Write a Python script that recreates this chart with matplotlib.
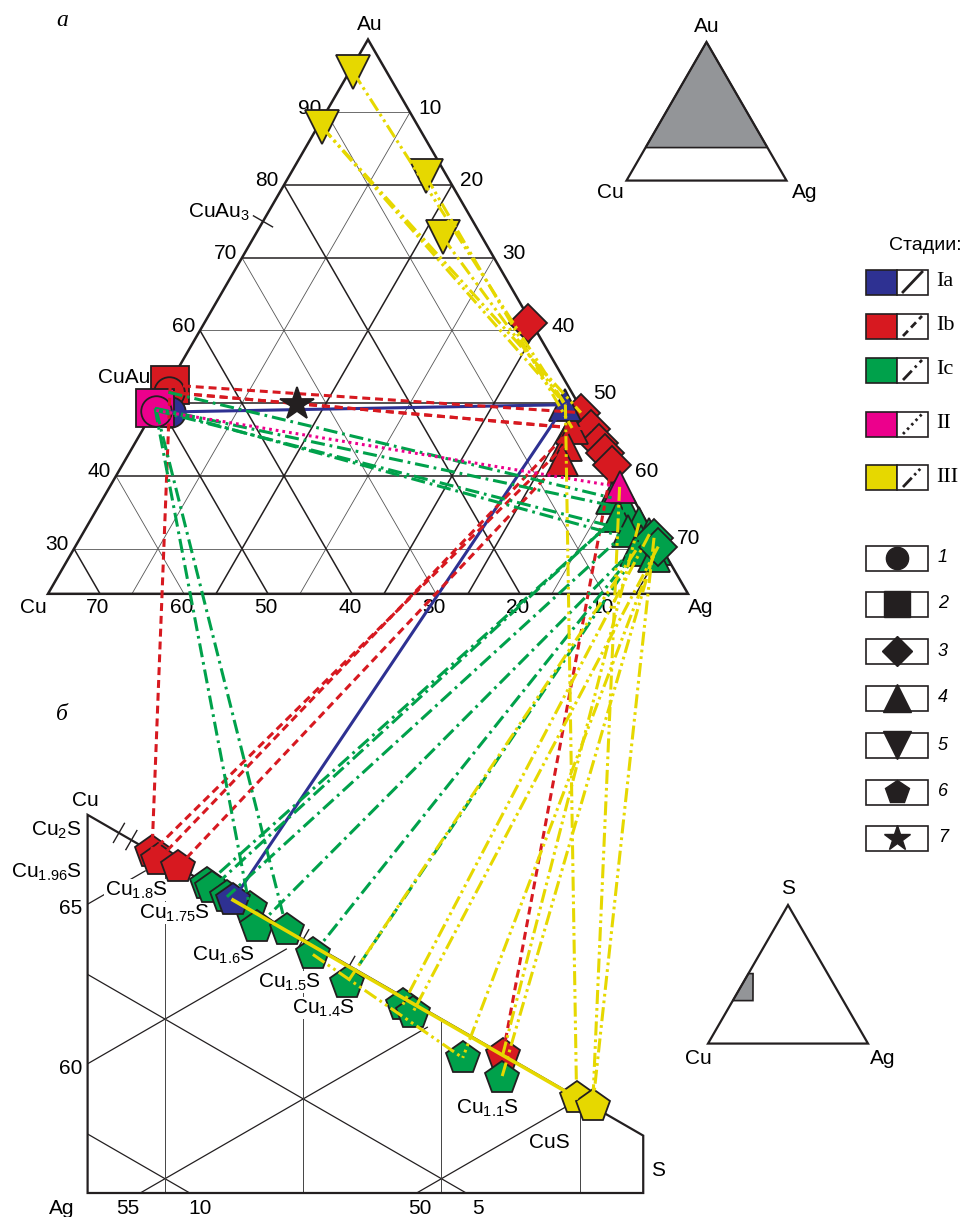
import numpy as np
import matplotlib
matplotlib.use("Agg")
import matplotlib.pyplot as plt
from matplotlib.patches import Polygon, Rectangle

plt.rcParams['font.family'] = ['Liberation Sans', 'DejaVu Sans']
plt.rcParams['mathtext.fontset'] = 'custom'
plt.rcParams['mathtext.rm'] = 'Liberation Sans'

# ======================= DATA =======================
STAGES = ['Ia', 'Ib', 'Ic', 'II', 'III']
STAGE_COLORS = {'Ia': '#2e3192', 'Ib': '#d71920', 'Ic': '#00a14b',
                'II': '#ec008c', 'III': '#e6d800', 'n': '#231f20'}
SHAPES = [1, 2, 3, 4, 5, 6, 7]          # legend numbers
SHAPE_MARKERS = {1: 'o', 2: 's', 3: 'D', 4: '^', 5: 'v', 6: 'p', 7: '*'}

# --- (a) Au-Ag-Cu alloys, at.% (Cu = 100 - Au - Ag)
top_au = [95.5, 88.0, 81.2, 72.8,
          61.0, 48.7, 46.4, 44.6, 43.2, 41.5,
          46.6, 44.3, 42.2,
          49.8,
          37.0, 35.5, 34.5, 33.5, 32.5, 32.0, 31.0, 30.0, 29.8, 29.0,
          31.5, 30.3,
          38.5,
          52.5, 51.5, 48.8, 49.3, 49.0,
          49.9]
top_ag = [0.5, 0.5, 16.3, 22.5,
          38.5, 51.0, 53.4, 55.2, 56.6, 58.3,
          51.0, 51.4, 52.0,
          48.6,
          60.5, 63.0, 62.5, 65.5, 64.7, 67.5, 67.0, 69.2, 67.0, 69.5,
          68.3, 69.4,
          60.7,
          0.2, 0.5, 2.0, 0.0, 0.3,
          16.6]
top_stage = ['III'] * 4 + ['Ib'] * 6 + ['Ib'] * 3 + ['Ia'] + ['Ic'] * 10 + ['Ic'] * 2 + \
            ['II'] + ['Ib', 'Ib', 'Ia', 'II', 'II'] + ['n']
top_shape = [5] * 4 + [3] * 6 + [4] * 3 + [4] + [4] * 10 + [3] * 2 + [4] + [2, 1, 1, 2, 1] + [7]

# --- (б) Cu-Ag-S sulfides: S and Ag fractions
bot_s = [0.3453, 0.3475, 0.3547, 0.4722,
         0.3652, 0.3670, 0.3724, 0.3807, 0.3746,
         0.3833, 0.3941, 0.4035, 0.4158, 0.4360, 0.4396, 0.4577, 0.4718,
         0.4989, 0.5047]
bot_ag = [0.0, 0.0014, 0.0, 0.0,
          0.0, 0.0005, 0.0005, 0.0, 0.0004,
          0.0045, 0.0, 0.0030, 0.0058, 0.0025, 0.0032, 0.0083, 0.0075,
          0.0002, 0.0]
bot_stage = ['Ib'] * 4 + ['Ic'] * 4 + ['Ia'] + ['Ic'] * 8 + ['III'] * 2

# --- tie lines: stage, end A, end B (T = alloy index, B = sulfide index)
tie_stage = (['Ia'] * 2 + ['Ib'] * 8 + ['Ic'] * 12 + ['II'] + ['III'] * 14)
tie_a = ['T29', 'T13',
         'T27', 'T28', 'T28', 'T27', 'T11', 'T12', 'T10', 'T9',
         'T30', 'T31', 'T30', 'T28', 'T30', 'T31', 'T15', 'T16', 'T18', 'T20', 'T22', 'T19',
         'T31',
         'T0', 'T1', 'T2', 'T3', 'T1', 'T13', 'T26', 'T24', 'T17', 'T21', 'T23', 'T19', 'T25', 'T22']
tie_b = ['T13', 'B8',
         'T5', 'T6', 'T10', 'B0', 'B0', 'B2', 'B1', 'B3',
         'T15', 'T18', 'T20', 'T14', 'B7', 'B10', 'B4', 'B5', 'B6', 'B9', 'B11', 'B12',
         'T26',
         'T13', 'T13', 'T10', 'T13', 'T5', 'B17', 'B18', 'B18', 'B3', 'B16', 'B15', 'B13', 'B14', 'B12']
# stage III trend along the sulfide join
trend_a = ['B8', 'B11']
trend_b = ['B17', 'B15']
trend_style = ['solid', 'stage']

# grid / frame values
AU_MIN = 23.8
top_grid = [10, 20, 30, 40, 50, 60, 70, 80, 90]
bot_cu_lines = [0.65, 0.60, 0.55, 0.50]
bot_ag_lines = [0.05, 0.10]
bot_s_lines = [0.35, 0.40, 0.45, 0.50]
BOT_S_MIN, BOT_S_MAX = 0.322, 0.523
sulfides = ['Cu$_\\mathregular{2}$S', 'Cu$_\\mathregular{1.96}$S', 'Cu$_\\mathregular{1.6}$S',
            'Cu$_\\mathregular{1.5}$S', 'Cu$_\\mathregular{1.4}$S', 'Cu$_\\mathregular{1.1}$S']
sulfide_s = [1 / 3, 1 / 2.96, 1 / 2.6, 1 / 2.5, 1 / 2.4, 1 / 2.1]
inset_s = [0.31, 0.505, 0.505, 0.31]
inset_ag = [0.0, 0.0, 0.029, 0.126]

# ======================= GEOMETRY =======================
SQ3 = np.sqrt(3)
TOP_APEX_X, TOP_APEX_Y, TOP_L = 368.0, 39.5, 840.0


def top_xy(au, ag):
    au = np.asarray(au, float) / 100.0
    ag = np.asarray(ag, float) / 100.0
    x = TOP_APEX_X - TOP_L / 2 + TOP_L * (ag + au / 2)
    y = TOP_APEX_Y + TOP_L * SQ3 / 2 * (1 - au)
    return x, y


BOT_REF_S, BOT_X0, BOT_Y0, BOT_L, BOT_YBOT = 0.35, 165.0, 859.5, 3192.0, 1193.0


def bot_xy(s, a):
    s = np.asarray(s, float)
    a = np.asarray(a, float)
    x = BOT_X0 + BOT_L * SQ3 / 2 * (s - BOT_REF_S)
    y = BOT_Y0 + BOT_L / 2 * (s - BOT_REF_S) + BOT_L * a
    return x, y


def small_xy(top, right, apex, side):
    top = np.asarray(top, float)
    right = np.asarray(right, float)
    return (apex[0] - side / 2 + side * (right + top / 2),
            apex[1] + side * SQ3 / 2 * (1 - top))


def endpoint(ref):
    i = int(ref[1:])
    if ref[0] == 'T':
        return top_xy(top_au[i], top_ag[i])
    return bot_xy(bot_s[i], bot_ag[i])


# ======================= FIGURE =======================
W, H = 966, 1217
fig = plt.figure(figsize=(W / 100, H / 100), dpi=100)
ax = fig.add_axes([0, 0, 1, 1])
ax.set_xlim(0, W)
ax.set_ylim(H, 0)
ax.axis('off')

K = '#231f20'
FS = 15
LINE_STY = {'Ia': '-', 'Ib': (0, (2.6, 1.6)), 'Ic': (0, (4.6, 1.6, 0.9, 1.6)),
            'II': (0, (0.9, 1.3)), 'III': (0, (4.6, 1.3, 0.9, 1.3, 0.9, 1.3))}
MS = {1: 22, 2: 27, 3: 19, 4: 23, 5: 24, 6: 25, 7: 25}

# ---------- top ternary grid ----------
def tline(p, q, lw, color=K, z=1):
    x, y = top_xy([p[0], q[0]], [p[1], q[1]])
    ax.plot(x, y, color=color, lw=lw, zorder=z, solid_capstyle='butt')

for v in top_grid:
    thin = v in (10, 30, 60, 90)
    lw, col = (0.6, '#555555') if thin else (1.1, K)
    if v > AU_MIN:
        tline((v, 0), (v, 100 - v), lw, col)
    if 100 - v > AU_MIN:
        tline((100 - v, 0), (AU_MIN, 100 - v - AU_MIN), lw, col)   # constant Cu
        tline((100 - v, v), (AU_MIN, v), lw, col)                  # constant Ag

ox, oy = top_xy([AU_MIN, 100, AU_MIN], [0, 0, 100 - AU_MIN])
ax.add_patch(Polygon(np.c_[ox, oy], closed=True, fill=False, ec=K, lw=1.8, zorder=2))

# top labels
x, y = top_xy(100, 0)
ax.text(x + 2, y - 6, 'Au', fontsize=FS, ha='center', va='bottom')
for v in [90, 80, 70, 60, 40, 30]:
    x, y = top_xy(v, 0)
    ax.text(x - 5, y - 4, str(v), fontsize=FS, ha='right', va='center')
for v in [10, 20, 30, 40, 50, 60, 70]:
    x, y = top_xy(100 - v, v)
    dx = 8 if v < 40 else 15
    dy = -4 if v in (10, 20, 30, 40, 60) else -10
    ax.text(x + dx, y + dy, str(v), fontsize=FS, ha='left', va='center')
for v in [70, 60, 50, 40, 30, 20, 10]:
    x, y = top_xy(AU_MIN, 100 - v - AU_MIN)
    ax.text(x - 2, y + 14, str(v), fontsize=FS, ha='center', va='center')
x, y = top_xy(AU_MIN, 0)
ax.text(x - 15, y + 14, 'Cu', fontsize=FS, ha='center', va='center')
x, y = top_xy(AU_MIN, 100 - AU_MIN)
ax.text(x + 13, y + 14, 'Ag', fontsize=FS, ha='center', va='center')
x, y = top_xy(50, 0)
ax.text(x - 8, y - 26, 'CuAu', fontsize=FS, ha='right', va='center')
x, y = top_xy(75, 0)
d = np.array([SQ3 / 2, 0.5]) * 11
ax.plot([x - d[0], x + d[0]], [y - d[1], y + d[1]], color=K, lw=1.0, zorder=2)
ax.text(x - 13, y - 9, 'CuAu$_\\mathregular{3}$', fontsize=FS, ha='right', va='center')
ax.text(62, 20, 'а', fontsize=17, ha='center', va='center', style='italic',
        family=['Liberation Serif', 'DejaVu Serif'])
ax.text(62, 715, 'б', fontsize=17, ha='center', va='center', style='italic',
        family=['Liberation Serif', 'DejaVu Serif'])

# ---------- bottom partial diagram ----------
fx0, fy0 = bot_xy(BOT_S_MIN, 0)
fx1, fy1 = bot_xy(BOT_S_MAX, 0)
frame_xy = np.array([[fx0, fy0], [fx1, fy1], [fx1, BOT_YBOT], [fx0, BOT_YBOT]])
ax.add_patch(Polygon(frame_xy, closed=True, fill=False, ec=K, lw=1.6, zorder=2))
clip = Polygon(frame_xy, closed=True, transform=ax.transData)

ss = np.linspace(0.2, 0.7, 50)
for c in bot_cu_lines:
    m = (1 - c - ss) >= 0
    x, y = bot_xy(ss[m], (1 - c - ss)[m])
    ln, = ax.plot(x, y, color=K, lw=0.9, zorder=1)
    ln.set_clip_path(clip)
for a in bot_ag_lines:
    x, y = bot_xy(ss, np.full_like(ss, a))
    ln, = ax.plot(x, y, color=K, lw=0.9, zorder=1)
    ln.set_clip_path(clip)
for s in bot_s_lines:
    x, y = bot_xy([s, s], [0, 0.2])
    ln, = ax.plot(x, y, color='#444444', lw=0.7, zorder=1)
    ln.set_clip_path(clip)

tdir = np.array([0.5, -SQ3 / 2]) * 11
for s in sulfide_s:
    x, y = bot_xy(s, 0)
    ax.plot([x - tdir[0], x + tdir[0]], [y - tdir[1], y + tdir[1]], color=K, lw=1.0, zorder=2)

lab_kw = dict(fontsize=FS, zorder=2.5,
              bbox=dict(facecolor='white', edgecolor='none', pad=0.3))
ax.text(85, 800, 'Cu', fontsize=FS, ha='center', va='center')
ax.text(82, 830, sulfides[0], ha='right', va='center', **lab_kw)
ax.text(82, 872, sulfides[1], ha='right', va='center', **lab_kw)
ax.text(136, 890, 'Cu$_\\mathregular{1.8}$S', ha='center', va='center', **lab_kw)
ax.text(174, 913, 'Cu$_\\mathregular{1.75}$S', ha='center', va='center', **lab_kw)
ax.text(223, 955, sulfides[2], ha='center', va='center', **lab_kw)
ax.text(289, 982, sulfides[3], ha='center', va='center', **lab_kw)
ax.text(323, 1008, sulfides[4], ha='center', va='center', **lab_kw)
ax.text(487, 1108, sulfides[5], ha='center', va='center', **lab_kw)
ax.text(549, 1143, 'CuS', ha='center', va='center', **lab_kw)
ax.text(658, 1170, 'S', fontsize=FS, ha='center', va='center')
ax.text(82, 909, '65', fontsize=FS, ha='right', va='center')
ax.text(82, 1069, '60', fontsize=FS, ha='right', va='center')
for t, xx in [('Ag', 62), ('55', 128), ('10', 200), ('50', 420), ('5', 478)]:
    ax.text(xx, 1208, t, fontsize=FS, ha='center', va='center')

# ---------- tie lines ----------
for st, a, b in zip(tie_stage, tie_a, tie_b):
    xa, ya = endpoint(a)
    xb, yb = endpoint(b)
    ax.plot([xa, xb], [ya, yb], color=STAGE_COLORS[st], lw=2.2, ls=LINE_STY[st],
            dash_capstyle='butt', zorder=4)
for a, b, sty in zip(trend_a, trend_b, trend_style):
    xa, ya = endpoint(a)
    xb, yb = endpoint(b)
    ax.plot([xa, xb], [ya, yb], color=STAGE_COLORS['III'], lw=2.6 if sty == 'solid' else 2.2,
            ls='-' if sty == 'solid' else LINE_STY['III'], zorder=4)

# ---------- markers ----------
for i in range(len(top_au)):
    x, y = top_xy(top_au[i], top_ag[i])
    sh = top_shape[i]
    ax.plot(x, y, marker=SHAPE_MARKERS[sh], ms=MS[sh], mfc=STAGE_COLORS[top_stage[i]],
            mec=K, mew=1.3, ls='none', zorder=(5 if sh == 7 else 3) + i * 0.001)
for i in range(len(bot_s)):
    x, y = bot_xy(bot_s[i], bot_ag[i])
    ax.plot(x, y, marker='p', ms=MS[6], mfc=STAGE_COLORS[bot_stage[i]],
            mec=K, mew=1.3, ls='none', zorder=3 + i * 0.001)

# ---------- insets ----------
ap1, sd1 = (706.5, 42.0), 160.0
gx, gy = small_xy([AU_MIN / 100, 1, AU_MIN / 100], [0, 0, 1 - AU_MIN / 100], ap1, sd1)
ax.add_patch(Polygon(np.c_[gx, gy], closed=True, fc='#939598', ec=K, lw=1.2, zorder=1))
tx, ty = small_xy([0, 1, 0], [0, 0, 1], ap1, sd1)
ax.add_patch(Polygon(np.c_[tx, ty], closed=True, fill=False, ec=K, lw=1.6, zorder=2))
ax.text(tx[1], ty[1] - 16, 'Au', fontsize=FS, ha='center', va='center')
ax.text(tx[0] - 16, ty[0] + 12, 'Cu', fontsize=FS, ha='center', va='center')
ax.text(tx[2] + 18, ty[2] + 12, 'Ag', fontsize=FS, ha='center', va='center')

ap2, sd2 = (788.0, 905.0), 160.0
gx, gy = small_xy(inset_s, inset_ag, ap2, sd2)
ax.add_patch(Polygon(np.c_[gx, gy], closed=True, fc='#939598', ec=K, lw=1.2, zorder=1))
tx, ty = small_xy([0, 1, 0], [0, 0, 1], ap2, sd2)
ax.add_patch(Polygon(np.c_[tx, ty], closed=True, fill=False, ec=K, lw=1.6, zorder=2))
ax.text(tx[1], ty[1] - 16, 'S', fontsize=FS, ha='center', va='center')
ax.text(tx[0] - 10, ty[0] + 15, 'Cu', fontsize=FS, ha='center', va='center')
ax.text(tx[2] + 15, ty[2] + 15, 'Ag', fontsize=FS, ha='center', va='center')

# ---------- legend ----------
LX, BW, BH = 866, 31, 25
ax.text(925, 245, 'Стадии:', fontsize=14, ha='center', va='center')
stage_rows = [282, 326, 370, 424, 477]
for st, yc in zip(STAGES, stage_rows):
    ax.add_patch(Rectangle((LX, yc - BH / 2), BW, BH, fc=STAGE_COLORS[st], ec=K, lw=1.2, zorder=2))
    ax.add_patch(Rectangle((LX + BW, yc - BH / 2), BW, BH, fc='white', ec=K, lw=1.2, zorder=2))
    ax.plot([LX + BW + 6, LX + 2 * BW - 6], [yc + 10, yc - 10], color=K, lw=2.0,
            ls=LINE_STY[st], dash_capstyle='butt', zorder=3)
    ax.text(LX + 2 * BW + 8, yc, st, fontsize=16, ha='left', va='center',
            family=['Liberation Serif', 'DejaVu Serif'])
shape_rows = [558, 604, 651, 698, 745, 792, 838]
LMS = {1: 16, 2: 19, 3: 15, 4: 20, 5: 20, 6: 18, 7: 19}
for sh, yc in zip(SHAPES, shape_rows):
    ax.add_patch(Rectangle((LX, yc - BH / 2), 2 * BW, BH, fc='white', ec=K, lw=1.2, zorder=2))
    ax.plot(LX + BW, yc, marker=SHAPE_MARKERS[sh], ms=LMS[sh], mfc=K, mec=K, ls='none', zorder=3)
    ax.text(LX + 2 * BW + 10, yc, str(sh), fontsize=13, ha='left', va='center', style='italic')

fig.savefig('out.png', dpi=100)
